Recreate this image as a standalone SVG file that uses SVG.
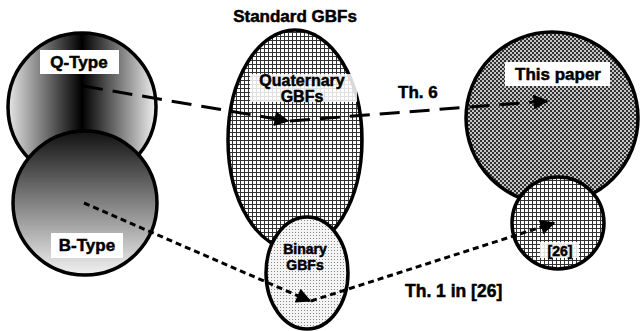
<svg xmlns="http://www.w3.org/2000/svg" width="641" height="331" viewBox="0 0 641 331">
<style>
.outline{stroke:#000;stroke-width:3.5}
.lbl{font-family:"Liberation Sans",Arial,sans-serif;font-weight:bold;fill:#000;stroke:#000;stroke-width:0.5}
.box{fill:#fff}
.dash{fill:none;stroke:#000;stroke-width:3;stroke-dasharray:20 10}
.dot{fill:none;stroke:#000;stroke-width:3;stroke-dasharray:6 4}
</style>
<defs>
<linearGradient id="gq" x1="0" y1="0" x2="1" y2="0">
<stop offset="0" stop-color="#e6e6e6"/>
<stop offset="0.5" stop-color="#000"/>
<stop offset="1" stop-color="#f0f0f0"/>
</linearGradient>
<linearGradient id="gb" x1="0" y1="0" x2="0" y2="1">
<stop offset="0" stop-color="#111"/>
<stop offset="1" stop-color="#f2f2f2"/>
</linearGradient>
<pattern id="grid" width="4" height="4" patternUnits="userSpaceOnUse">
<rect width="4" height="4" fill="#fff"/>
<path d="M0 0.5H4M0.5 0V4" stroke="#333" stroke-width="1"/>
</pattern>
<pattern id="stip" width="3" height="3" patternUnits="userSpaceOnUse">
<rect width="3" height="3" fill="#f4f4f4"/>
<rect x="1" y="1" width="1" height="1" fill="#888"/>
</pattern>
<pattern id="chk" width="4" height="4" patternUnits="userSpaceOnUse">
<rect width="4" height="4" fill="#c4c4c4"/>
<rect width="2" height="2" fill="#333"/>
<rect x="2" y="2" width="2" height="2" fill="#333"/>
</pattern>
<marker id="ah" viewBox="0 0 10 10" refX="9" refY="5" markerWidth="5.5" markerHeight="5" orient="auto" markerUnits="strokeWidth">
<path d="M0 0L10 5L0 10z" fill="#000"/>
</marker>
</defs>

<text class="lbl" x="295" y="22" font-size="17" text-anchor="middle">Standard GBFs</text>

<g id="this-paper">
<circle class="outline" cx="552" cy="118" r="86" fill="url(#chk)"/>
<rect class="box" x="505" y="62" width="105" height="24"/>
<text class="lbl" x="558" y="80" font-size="17" text-anchor="middle">This paper</text>
</g>
<g id="ref26">
<circle class="outline" cx="558" cy="223" r="46" fill="url(#grid)"/>
<rect class="box" x="540" y="242" width="39" height="16" opacity="0.85"/>
<text class="lbl" x="560" y="256" font-size="14" text-anchor="middle" fill="#222">[26]</text>
</g>

<g id="q-type">
<circle class="outline" cx="82" cy="107" r="74" fill="url(#gq)"/>
<rect class="box" x="40" y="50" width="79" height="24"/>
<text class="lbl" x="79" y="68" font-size="17" text-anchor="middle">Q-Type</text>
</g>
<g id="b-type">
<circle class="outline" cx="85" cy="203" r="72" fill="url(#gb)"/>
<rect class="box" x="51" y="233" width="72" height="25"/>
<text class="lbl" x="87" y="251" font-size="17" text-anchor="middle">B-Type</text>
</g>

<g id="quaternary">
<ellipse class="outline" cx="295" cy="140" rx="67" ry="110" fill="url(#grid)"/>
<rect class="box" x="250" y="74" width="107" height="28" opacity="0.85"/>
<text class="lbl" x="302" y="86" font-size="16" text-anchor="middle">Quaternary</text>
<text class="lbl" x="302" y="102" font-size="16" text-anchor="middle">GBFs</text>
</g>
<g id="binary">
<ellipse class="outline" cx="307" cy="273" rx="41" ry="56" fill="url(#stip)"/>
<text class="lbl" x="305" y="254" font-size="14" text-anchor="middle">Binary</text>
<text class="lbl" x="305" y="270" font-size="14" text-anchor="middle">GBFs</text>
</g>

<g id="connectors">
<path class="dash" d="M83 86L288 121" marker-end="url(#ah)"/>
<path class="dash" d="M290 121L547 101" marker-end="url(#ah)"/>
<path class="dot" d="M84 203L310 301" marker-end="url(#ah)"/>
<path class="dot" d="M311 301L554 223" marker-end="url(#ah)"/>
<text class="lbl" x="398" y="98" font-size="17">Th. 6</text>
<text class="lbl" x="405" y="297" font-size="17.5">Th. 1 in [26]</text>
</g>
</svg>
